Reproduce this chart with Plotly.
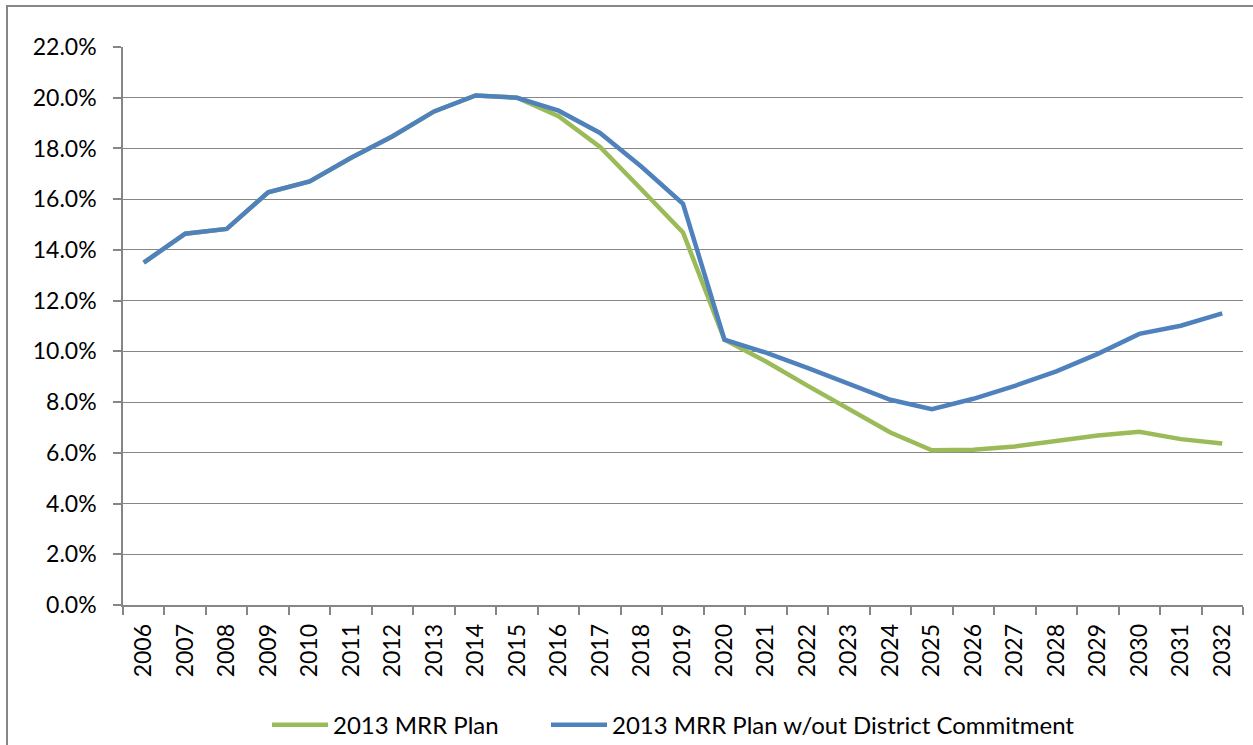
import plotly.graph_objects as go

years = [str(y) for y in range(2006, 2033)]

mrr_plan = [13.5, 14.64, 14.83, 16.27, 16.70, 17.63, 18.48, 19.46, 20.09, 20.0,
            19.27, 18.06, 16.38, 14.69, 10.46, 9.6, 8.65, 7.75, 6.8, 6.1,
            6.12, 6.25, 6.47, 6.68, 6.83, 6.54, 6.37]

mrr_plan_wo = [13.5, 14.64, 14.83, 16.27, 16.70, 17.63, 18.48, 19.46, 20.09, 20.0,
               19.49, 18.61, 17.28, 15.82, 10.46, 9.95, 9.35, 8.7, 8.09, 7.72,
               8.13, 8.64, 9.21, 9.9, 10.69, 11.01, 11.5]

y_ticks = [0, 2, 4, 6, 8, 10, 12, 14, 16, 18, 20, 22]

series_names = ["2013 MRR Plan", "2013 MRR Plan w/out District Commitment"]
colors = ["#9BBB59", "#4F81BD"]

FONT = "Lato"
GRAY = "#868686"
PW = 1120.0
PH = 558.0

fig = go.Figure()
fig.add_trace(go.Scatter(x=years, y=[v / 100 for v in mrr_plan], mode="lines",
                         name=series_names[0], legend="legend",
                         line=dict(color=colors[0], width=4.5)))
fig.add_trace(go.Scatter(x=years, y=[v / 100 for v in mrr_plan_wo], mode="lines",
                         name=series_names[1], legend="legend2",
                         line=dict(color=colors[1], width=4.5)))

legend_common = dict(orientation="h", yanchor="top", y=-0.175, xanchor="left",
                     font=dict(family=FONT, size=24, color="#000000"),
                     itemwidth=56, bgcolor="rgba(0,0,0,0)")

fig.update_layout(
    width=1253, height=745,
    margin=dict(l=123, r=10, t=47, b=140, autoexpand=False),
    paper_bgcolor="white", plot_bgcolor="white",
    font=dict(family=FONT, size=23, color="#000000"),
    showlegend=True,
    legend=dict(x=(267 - 123) / PW, **legend_common),
    legend2=dict(x=(546 - 123) / PW, **legend_common),
    shapes=[dict(type="rect", xref="paper", yref="paper",
                 x0=(7 - 123) / PW, x1=(1260 - 123) / PW,
                 y0=(605 - 760) / PH, y1=(605 - 6) / PH,
                 line=dict(color=GRAY, width=2), fillcolor="rgba(0,0,0,0)",
                 layer="below")],
)

fig.update_xaxes(type="category", range=[-0.5, len(years) - 0.5],
                 showgrid=False, showline=True, linecolor=GRAY, linewidth=1.5,
                 ticks="outside", tickson="boundaries", ticklen=8, tickcolor=GRAY,
                 tickwidth=1.5, tickangle=-90, ticklabelstandoff=8,
                 automargin=False,
                 tickfont=dict(family=FONT, size=23, color="#000000"))

fig.update_yaxes(range=[0, 0.22], tickvals=[v / 100 for v in y_ticks],
                 tickformat=".1%", showgrid=True, gridcolor=GRAY, gridwidth=1.3,
                 showline=True, linecolor=GRAY, linewidth=1.5, zeroline=False,
                 ticks="outside", ticklen=8, tickcolor=GRAY, tickwidth=1.5,
                 ticklabelstandoff=12, automargin=False,
                 tickfont=dict(family=FONT, size=23, color="#000000"))

fig.write_html("out.html", config={"displayModeBar": False},
               post_script="document.body.style.margin='0';document.body.style.overflow='hidden';")
